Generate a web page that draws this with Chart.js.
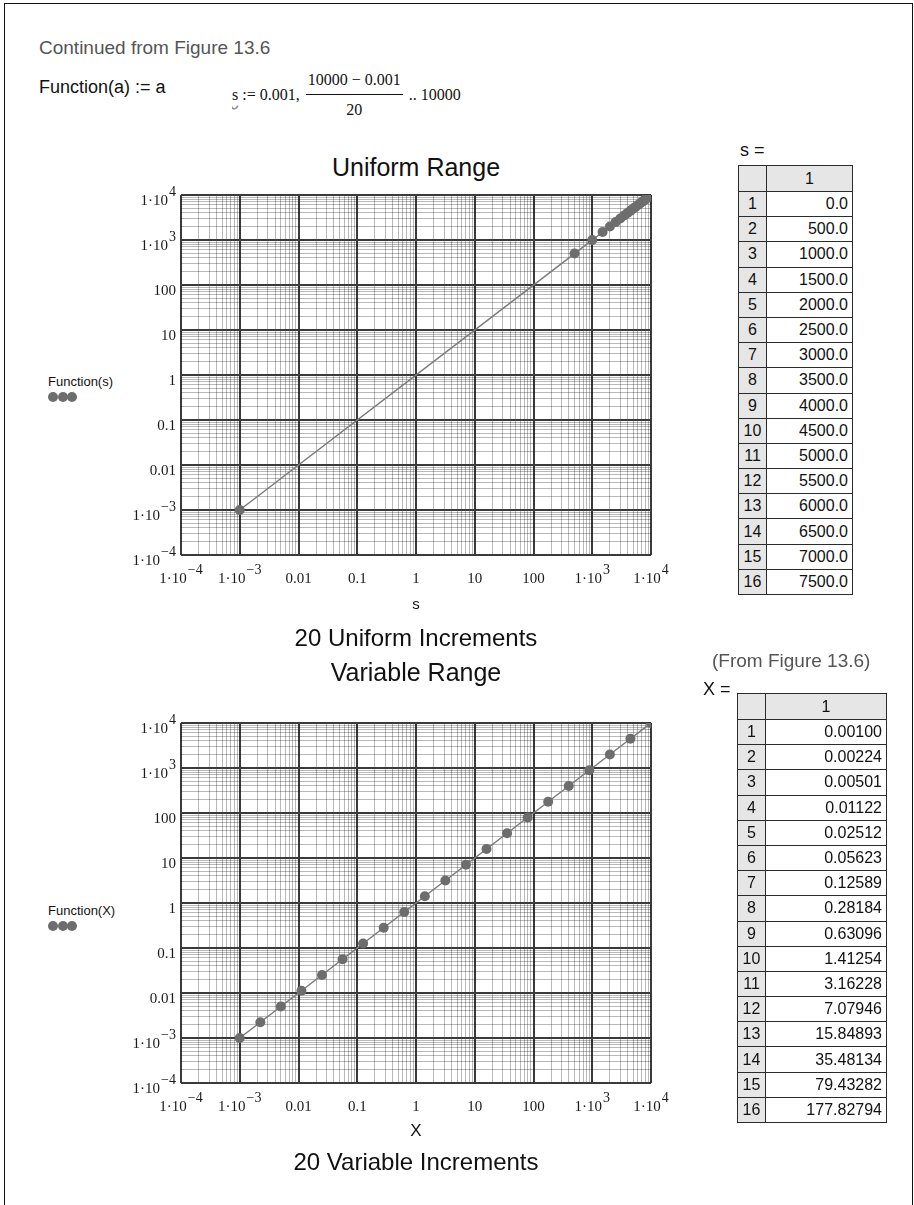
<!DOCTYPE html>
<html>
<head>
<meta charset="utf-8">
<script src="https://cdn.jsdelivr.net/npm/chart.js@4.4.1/dist/chart.umd.min.js"></script>
<style>
  body { margin: 0; background: #fff; width: 914px; height: 1205px; position: relative; overflow: hidden; font-family: "Liberation Sans", Arial, sans-serif; color: #111; }
  .abs { position: absolute; white-space: nowrap; }
  .frame { position: absolute; left: 4px; top: 3px; width: 907px; height: 1230px; border: 1.5px solid #111; }
  .gray { color: #555; font-size: 19px; }
  .title { font-size: 25px; transform: translate(-50%, -50%); }
  .sub { font-size: 24px; transform: translate(-50%, -50%); }
  .mid { transform: translateY(-50%); }
  .formula { font-family: "Liberation Serif", "Times New Roman", serif; font-size: 16px; display: flex; align-items: center; }
  .frac { display: inline-flex; flex-direction: column; align-items: center; margin: 0 6px; }
  .frac .num { border-bottom: 1px solid #111; padding: 0 2px 5px; }
  .frac .den { padding-top: 6px; }
  .wavy { text-decoration: underline wavy #888; text-underline-offset: 4px; }
  .legend { font-size: 13px; }
  .dots span { display: inline-block; width: 10px; height: 10px; border-radius: 50%; background: #6d6d6d; margin-right: -0.5px; }
  table { position: absolute; border-collapse: collapse; font-size: 16px; }
  td { border: 1.5px solid #2b2b2b; padding: 0 4px; height: 24.2px; line-height: 24px; }
  td.idx { background: #e6e6e6; text-align: center; padding: 0; }
  td.val { text-align: right; }
  tr.head td { background: #e6e6e6; text-align: center; height: 25px; }
  canvas { position: absolute; left: 0; }
</style>
</head>
<body>
<div class="frame"></div>

<div class="abs gray mid" style="left:39px; top:48px;">Continued from Figure 13.6</div>
<div class="abs mid" style="left:39px; top:87px; font-size:18px;">Function(a) := a</div>
<div class="abs formula mid" style="left:232px; top:95px;">
  <span class="wavy">s</span>&nbsp;:=&nbsp;0.001,<span class="frac"><span class="num">10000 − 0.001</span><span class="den">20</span></span>..&nbsp;10000
</div>

<div class="abs title" style="left:416px; top:167px;">Uniform Range</div>
<div class="abs mid" style="left:740px; top:150px; font-size:18px;">s =</div>
<table id="sTable" style="left:738px; top:165px; width:115px;"></table>

<div class="abs legend" style="left:48px; top:374px;">Function(s)</div>
<div class="abs dots" style="left:48px; top:388px;"><span></span><span></span><span></span></div>
<canvas id="uniformChart" width="914" height="520" style="top:140px;"></canvas>
<div class="abs sub" style="left:416px; top:603px; font-size:15px;">s</div>
<div class="abs sub" style="left:416px; top:638px;">20 Uniform Increments</div>

<div class="abs gray mid" style="left:712px; top:661px;">(From Figure 13.6)</div>
<div class="abs mid" style="left:703px; top:689px; font-size:18px;">X =</div>
<table id="xTable" style="left:737px; top:693px; width:150px;"></table>
<div class="abs title" style="left:416px; top:672px;">Variable Range</div>

<div class="abs legend" style="left:48px; top:903px;">Function(X)</div>
<div class="abs dots" style="left:48px; top:917px;"><span></span><span></span><span></span></div>
<canvas id="variableChart" width="914" height="520" style="top:670px;"></canvas>
<div class="abs sub" style="left:416px; top:1131px; font-size:17px;">X</div>
<div class="abs sub" style="left:416px; top:1162px;">20 Variable Increments</div>

<script>
// s := 0.001, (10000 - 0.001)/20 .. 10000
const sValues = [0.001, 500, 1000, 1500, 2000, 2500, 3000, 3500, 4000, 4500, 5000,
  5500, 6000, 6500, 7000, 7500, 8000, 8500, 9000, 9500, 10000];
const functionS = [0.001, 500, 1000, 1500, 2000, 2500, 3000, 3500, 4000, 4500, 5000,
  5500, 6000, 6500, 7000, 7500, 8000, 8500, 9000, 9500, 10000];

// X (from Figure 13.6)
const xValues = [0.001, 0.00224, 0.00501, 0.01122, 0.02512, 0.05623, 0.12589, 0.28184,
  0.63096, 1.41254, 3.16228, 7.07946, 15.84893, 35.48134, 79.43282, 177.82794,
  398.10717, 891.25094, 1995.26231, 4466.83592, 10000];
const functionX = [0.001, 0.00224, 0.00501, 0.01122, 0.02512, 0.05623, 0.12589, 0.28184,
  0.63096, 1.41254, 3.16228, 7.07946, 15.84893, 35.48134, 79.43282, 177.82794,
  398.10717, 891.25094, 1995.26231, 4466.83592, 10000];

// axis ticks (same on both axes of both plots)
const tickValues = [1e-4, 1e-3, 0.01, 0.1, 1, 10, 100, 1e3, 1e4];
const tickBase = ["1·10", "1·10", "0.01", "0.1", "1", "10", "100", "1·10", "1·10"];
const tickExp = ["−4", "−3", "", "", "", "", "", "3", "4"];
const minorSteps = [2, 3, 4, 5, 6, 7, 8, 9];

const tableRows = 16;

// tablas a la derecha
function fillTable(id, values, digits) {
  const t = document.getElementById(id);
  let html = '<tr class="head"><td class="idx" style="width:27px"></td><td>1</td></tr>';
  values.slice(0, tableRows).forEach((v, i) => {
    html += '<tr><td class="idx">' + (i + 1) + '</td><td class="val">' + v.toFixed(digits) + "</td></tr>";
  });
  t.innerHTML = html;
}
fillTable("sTable", sValues, 1);
fillTable("xTable", xValues, 5);

// lineas de grilla: decadas + 2..9
const gridValues = [];
tickValues.forEach((d, i) => {
  gridValues.push(d);
  if (i < tickValues.length - 1) minorSteps.forEach((k) => gridValues.push(k * d));
});

function isMajor(v) {
  const l = Math.log10(v);
  return Math.abs(l - Math.round(l)) < 1e-9;
}

function drawLabel(ctx, base, exp, x, y) {
  ctx.font = "15px 'Liberation Serif'";
  ctx.fillText(base, x, y);
  const bw = ctx.measureText(base).width;
  if (exp) {
    ctx.font = "14px 'Liberation Serif'";
    ctx.fillText(exp, x + bw + 1, y - 9);
  }
}

function labelWidth(ctx, base, exp) {
  ctx.font = "15px 'Liberation Serif'";
  let w = ctx.measureText(base).width;
  if (exp) {
    ctx.font = "14px 'Liberation Serif'";
    w += ctx.measureText(exp).width + 1;
  }
  return w;
}

const tickLabelPlugin = {
  id: "tickLabels",
  afterDraw(chart) {
    const ctx = chart.ctx;
    const area = chart.chartArea;
    ctx.save();
    ctx.fillStyle = "#1a1a1a";
    ctx.textAlign = "left";
    ctx.textBaseline = "alphabetic";
    tickValues.forEach((v, i) => {
      const w = labelWidth(ctx, tickBase[i], tickExp[i]);
      const px = chart.scales.x.getPixelForValue(v);
      drawLabel(ctx, tickBase[i], tickExp[i], px - w / 2, area.bottom + 28);
      const py = chart.scales.y.getPixelForValue(v);
      drawLabel(ctx, tickBase[i], tickExp[i], area.left - 5 - w, py + 10);
    });
    ctx.restore();
  },
};

function logAxis() {
  return {
    type: "logarithmic",
    min: 1e-4,
    max: 1e4,
    afterBuildTicks: (axis) => {
      axis.ticks = gridValues.map((v) => ({ value: v }));
    },
    ticks: { display: false },
    border: { display: false },
    grid: {
      drawTicks: false,
      color: (c) => (isMajor(c.tick.value) ? "#3a3a3a" : "rgba(0,0,0,0.28)"),
      lineWidth: (c) => (isMajor(c.tick.value) ? 2 : 1),
    },
  };
}

function makeChart(id, xs, ys, padTop, padBottom) {
  const ctx = document.getElementById(id).getContext("2d");
  return new Chart(ctx, {
    type: "scatter",
    data: {
      datasets: [
        {
          data: xs.map((x, i) => ({ x: x, y: ys[i] })),
          showLine: true,
          borderColor: "#7a7a7a",
          borderWidth: 1.5,
          pointRadius: 5,
          pointBackgroundColor: "#6d6d6d",
          pointBorderWidth: 0,
        },
      ],
    },
    options: {
      responsive: false,
      animation: false,
      devicePixelRatio: 1,
      layout: { padding: { left: 181, right: 263, top: padTop, bottom: padBottom } },
      plugins: { legend: { display: false }, tooltip: { enabled: false } },
      scales: { x: logAxis(), y: logAxis() },
    },
    plugins: [tickLabelPlugin],
  });
}

makeChart("uniformChart", sValues, functionS, 55, 105);
makeChart("variableChart", xValues, functionX, 53, 107);
</script>
</body>
</html>
